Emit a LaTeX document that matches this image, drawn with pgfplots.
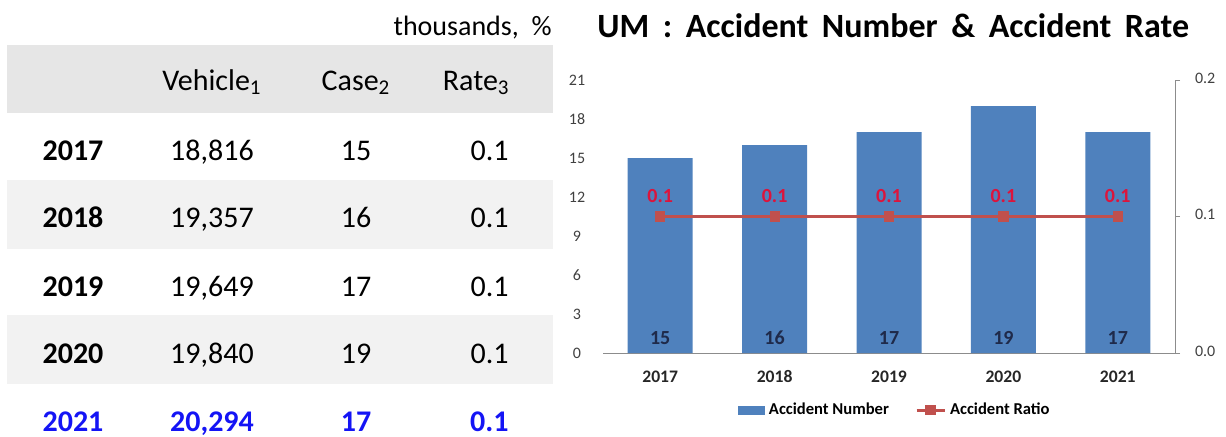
\documentclass[border=0pt]{standalone}
\usepackage{pgfplots}
\pgfplotsset{compat=1.18}
\usepackage{pgfplotstable}
\usepackage{fontspec}
\setmainfont{Carlito}

\definecolor{barblue}{HTML}{4F81BD}
\definecolor{linered}{HTML}{C0504D}
\definecolor{labred}{HTML}{DC143C}
\definecolor{labnavy}{HTML}{1F2A4A}
\definecolor{hdrgray}{HTML}{E6E6E6}
\definecolor{rowgray}{HTML}{F2F2F2}
\definecolor{yearblue}{HTML}{1414F5}
\definecolor{axgray}{HTML}{8C8C8C}

\newcommand\fs[1]{\fontsize{#1}{#1}\selectfont}
% baseline, year, vehicles, cases, rate, style
\newcommand\trow[6]{%
  \node[anchor=base, inner sep=0] at (73,#1) {\fs{15}\bfseries #6#2};
  \node[anchor=base, inner sep=0] at (212,#1) {\fs{15}#6#3};
  \node[anchor=base, inner sep=0] at (356,#1) {\fs{15}#6#4};
  \node[anchor=base east, inner sep=0] at (509,#1) {\fs{15}#6#5};
}

\pgfplotstableread{
x num
0 15
1 16
2 17
3 19
4 17
}\accnum
\pgfplotstableread{
x rate
0 0.1
1 0.1
2 0.1
3 0.1
4 0.1
}\accrate

\pgfplotsset{
  /pgf/number format/assume math mode=true,
  barlegend/.style={legend image code/.code={\fill[barblue] (0pt,-2pt) rectangle (13pt,2pt);}},
  linelegend/.style={legend image code/.code={\draw[mark repeat=2, mark phase=2, ##1]
    plot coordinates {(0pt,0pt) (7pt,0pt) (14pt,0pt)};}},
}

\begin{document}
\begin{tikzpicture}
\begin{scope}[x=0.5pt,y=-0.5pt]
  \path (0,0) rectangle (1226,436);
  \fill[hdrgray] (7,45) rectangle (553,113);
  \fill[rowgray] (7,180) rectangle (553,249);
  \fill[rowgray] (7,315) rectangle (553,384);
  \node[anchor=base east, inner sep=0] at (552,35) {\fs{14}thousands,\ \ \%};
  \node[anchor=base west, inner sep=0] at (597,37)
    {\fs{17}\bfseries\spaceskip=0.4em UM : Accident Number \& Accident Rate};
  \node[anchor=base, inner sep=0] at (212,90) {\fs{15}Vehicle\textsubscript{1}};
  \node[anchor=base, inner sep=0] at (356,90) {\fs{15}Case\textsubscript{2}};
  \node[anchor=base east, inner sep=0] at (510,90) {\fs{15}Rate\textsubscript{3}};
  \trow{160}{2017}{18,816}{15}{0.1}{}
  \trow{227}{2018}{19,357}{16}{0.1}{}
  \trow{296}{2019}{19,649}{17}{0.1}{}
  \trow{363}{2020}{19,840}{19}{0.1}{}
  \trow{431}{2021}{20,294}{17}{0.1}{\bfseries\color{yearblue}}
\end{scope}

\begin{axis}[
  at={(301.5pt,-176.5pt)}, anchor=south west,
  scale only axis, width=286pt, height=136.5pt,
  xmin=-0.5, xmax=4.5, ymin=0, ymax=21,
  xtick={0,...,4}, xticklabels={2017,2018,2019,2020,2021},
  ytick={0,3,...,21},
  axis x line*=bottom, axis y line*=left,
  x axis line style={axgray, -}, y axis line style={draw=none},
  major tick length=0pt, tick style={draw=none},
  yticklabel style={font=\fs{8}, text=black!75, anchor=center, xshift=-13pt},
  xticklabel style={font=\fs{8.8}\bfseries, text=black!85, anchor=base, yshift=-14.5pt},
  clip=false,
]
\addplot[ybar, bar width=32.5pt, fill=barblue, draw=none,
  visualization depends on={y \as \rawy},
  nodes near coords,
  nodes near coords style={font=\fs{10}\bfseries, text=labnavy, anchor=base,
    yshift={-(\rawy-0.66)*6.5pt}}]
  table[x=x, y=num] {\accnum};
\end{axis}

\begin{axis}[
  at={(301.5pt,-176.5pt)}, anchor=south west,
  scale only axis, width=286pt, height=136.5pt,
  xmin=-0.5, xmax=4.5, ymin=0, ymax=0.2,
  ytick={0,0.1,0.2},
  axis x line=none, axis y line*=right,
  y axis line style={axgray, -}, tick style={axgray},
  tick align=outside, major tick length=2.5pt,
  yticklabel style={font=\fs{8}, text=black!75, anchor=west, xshift=4pt, yshift=1pt,
    /pgf/number format/.cd, fixed, fixed zerofill, precision=1},
  clip=false,
  legend columns=2,
  legend style={at={(0.512,-0.209)}, anchor=center, draw=none, fill=none,
    font=\fs{8.3}\bfseries, inner sep=0pt,
    /tikz/every even column/.append style={column sep=11pt}},
]
\addlegendimage{barlegend}
\addlegendentry{Accident Number}
\addplot[linered, line width=1.5pt, mark=square*, mark size=1.8pt,
  mark options={fill=linered, draw=linered}, linelegend,
  nodes near coords,
  nodes near coords style={font=\fs{10}\bfseries, text=labred, anchor=center, yshift=10.5pt,
    /pgf/number format/.cd, fixed, fixed zerofill, precision=1}]
  table[x=x, y=rate] {\accrate};
\addlegendentry{Accident Ratio}
\end{axis}
\end{tikzpicture}
\end{document}
